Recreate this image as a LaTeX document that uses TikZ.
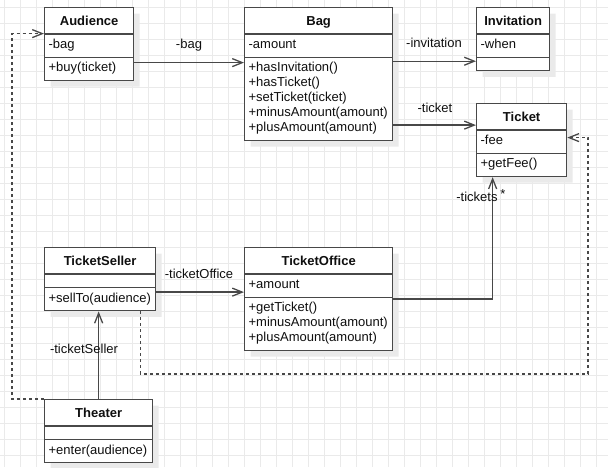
\documentclass[tikz,border=0pt]{standalone}
\usepackage{fontspec}
\setmainfont{Liberation Sans}
\usetikzlibrary{shapes.multipart,arrows.meta,shadows}

\definecolor{umlline}{RGB}{72,72,72}
\definecolor{umltext}{RGB}{15,15,15}
\definecolor{umlgrid}{RGB}{234,234,234}
\definecolor{umlshadow}{RGB}{234,234,234}

\newcommand{\hdr}[1]{\textbf{#1}\rule[-4.5pt]{0pt}{18pt}}
\newcommand{\mlines}[1]{\begin{tabular}{@{}l@{}}#1\end{tabular}}

\tikzset{
    umlclass/.style={draw=umlline, line width=1.3pt, fill=white, text=umltext,
        rectangle split, rectangle split parts=3,
        rectangle split part align={center,left,left},
        rectangle split empty part height=3pt,
        inner xsep=4pt, inner ysep=3.5pt, anchor=north west,
        font=\fontsize{13}{15}\selectfont,
        drop shadow={shadow xshift=6pt,shadow yshift=-6pt,fill=umlshadow,opacity=1}},
    assoc/.style={draw=umlline, line width=1.3pt, -{Straight Barb[length=10pt,width=8pt]}},
    dep/.style={assoc, dash pattern=on 3pt off 3pt},
    role/.style={font=\fontsize{13}{15}\selectfont, text=umltext, inner sep=0pt, anchor=base}
}

\begin{document}
\begin{tikzpicture}[x=1pt,y=-1pt]
    \useasboundingbox (0,0) rectangle (608,467);
    %% grid
    \foreach \x in {4,20,...,600} \draw[umlgrid] (\x,0) -- (\x,467);
    \foreach \y in {7,23,...,460} \draw[umlgrid] (0,\y) -- (608,\y);

    %% classes
    \node[umlclass, minimum width=89pt] (aud) at (44,7)
        {\hdr{Audience}\nodepart{two}\mlines{-bag}\nodepart{three}\mlines{+buy(ticket)}};
    \node[umlclass, minimum width=148pt] (bag) at (244,7)
        {\hdr{Bag}\nodepart{two}\mlines{-amount}\nodepart{three}\mlines{+hasInvitation()\\+hasTicket()\\+setTicket(ticket)\\+minusAmount(amount)\\+plusAmount(amount)}};
    \node[umlclass, minimum width=73pt] (inv) at (476,7)
        {\hdr{Invitation}\nodepart{two}\mlines{-when}\nodepart{three}};
    \node[umlclass, minimum width=90pt] (tkt) at (476,103)
        {\hdr{Ticket}\nodepart{two}\mlines{-fee}\nodepart{three}\mlines{+getFee()}};
    \node[umlclass, minimum width=111pt] (seller) at (44,247)
        {\hdr{TicketSeller}\nodepart{two}\nodepart{three}\mlines{+sellTo(audience)}};
    \node[umlclass, minimum width=148pt] (office) at (244,247)
        {\hdr{TicketOffice}\nodepart{two}\mlines{+amount}\nodepart{three}\mlines{+getTicket()\\+minusAmount(amount)\\+plusAmount(amount)}};
    \node[umlclass, minimum width=108pt] (theater) at (44,399)
        {\hdr{Theater}\nodepart{two}\nodepart{three}\mlines{+enter(audience)}};

    %% associations
    \draw[assoc] ([yshift=-18.5pt]aud.east) -- ([yshift=-18.5pt]aud.east -| bag.west);
    \draw[assoc] ([yshift=-22pt]inv.west -| bag.east) -- ([yshift=-22pt]inv.west);
    \draw[assoc] ([yshift=15pt]tkt.west -| bag.east) -- ([yshift=15pt]tkt.west);
    \draw[assoc] (office.east) -| ([xshift=-29pt]tkt.south);
    \draw[assoc] ([yshift=7pt]office.west -| seller.east) -- ([yshift=7pt]office.west);
    \draw[assoc] (theater.north) -- (theater.north |- seller.south);

    %% dependencies
    \coordinate (loopL) at (12,399);
    \coordinate (loopR) at (588,374);
    \draw[dep] (theater.north west) -- (loopL) |- ([yshift=10.5pt]aud.west);
    \draw[dep] ([xshift=-16pt]seller.south east) |- (loopR) |- ([yshift=2.5pt]tkt.east);

    %% roles
    \foreach \n/\x/\y/\t in {rbag/189/48/-bag, rinv/434/47/-invitation, rtkt/435/112/-ticket,
        rtkts/477/201/-tickets, rmany/503/198/*, roff/199/278/-ticketOffice, rsel/84/353/-ticketSeller} {
        \node[role] (\n) at (\x,\y) {\t};
    }
\end{tikzpicture}
\end{document}
